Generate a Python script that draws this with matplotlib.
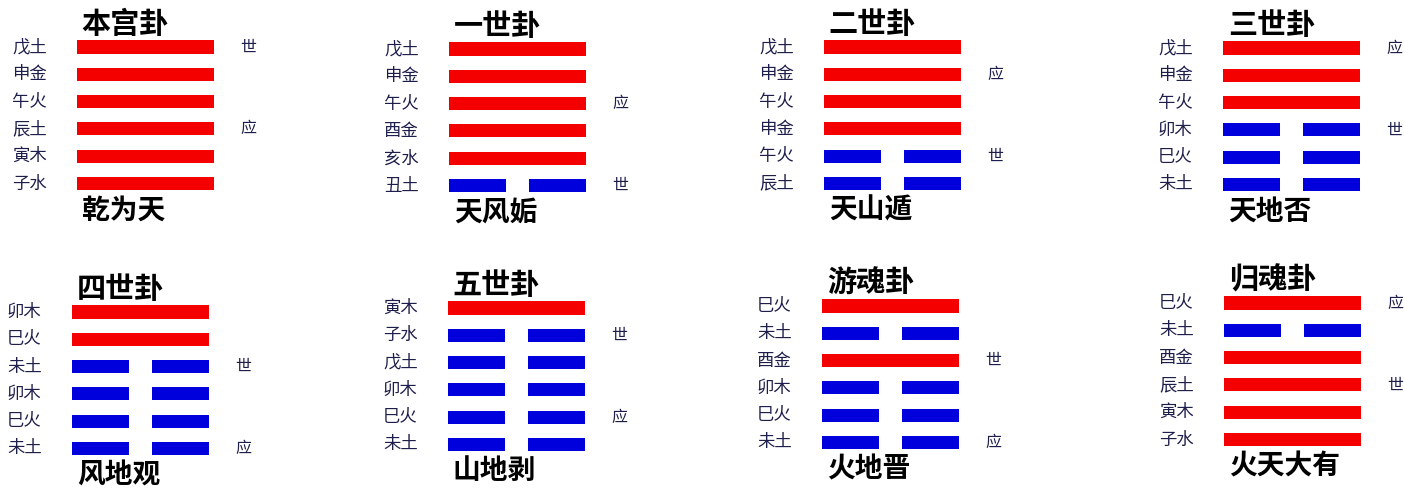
import matplotlib
matplotlib.use("Agg")
import matplotlib.pyplot as plt

plt.rcParams['font.family'] = ['Noto Sans CJK SC', 'DejaVu Sans']

# === Data ===
titles = ['本宫卦', '一世卦', '二世卦', '三世卦', '四世卦', '五世卦', '游魂卦', '归魂卦']
names = ['乾为天', '天风姤', '天山遁', '天地否', '风地观', '山地剥', '火地晋', '火天大有']

# lines listed top to bottom: 1 = yang (solid), 0 = yin (broken)
lines = [
    [1, 1, 1, 1, 1, 1],
    [1, 1, 1, 1, 1, 0],
    [1, 1, 1, 1, 0, 0],
    [1, 1, 1, 0, 0, 0],
    [1, 1, 0, 0, 0, 0],
    [1, 0, 0, 0, 0, 0],
    [1, 0, 1, 0, 0, 0],
    [1, 0, 1, 1, 1, 1],
]
labels = [
    ['戊土', '申金', '午火', '辰土', '寅木', '子水'],
    ['戊土', '申金', '午火', '酉金', '亥水', '丑土'],
    ['戊土', '申金', '午火', '申金', '午火', '辰土'],
    ['戊土', '申金', '午火', '卯木', '巳火', '未土'],
    ['卯木', '巳火', '未土', '卯木', '巳火', '未土'],
    ['寅木', '子水', '戊土', '卯木', '巳火', '未土'],
    ['巳火', '未土', '酉金', '卯木', '巳火', '未土'],
    ['巳火', '未土', '酉金', '辰土', '寅木', '子水'],
]
shi_idx = [0, 5, 4, 3, 2, 1, 2, 3]    # line carrying 世
ying_idx = [3, 2, 1, 0, 5, 4, 5, 0]   # line carrying 应

# === Layout (pixels): bar left edge, first line centre ===
W, H = 1404, 488
anchors = [(77, 47), (449, 49), (824, 47), (1223, 48),
           (72, 312), (448, 308), (822, 306), (1224, 303)]
bar_w = 137
step = 27.3

RED = '#f50000'
BLUE = '#0000dc'
INK = '#1e1e4c'

fig = plt.figure(figsize=(W / 100, H / 100), dpi=100)
fig.patch.set_facecolor('white')

for k in range(8):
    bx, ty = anchors[k]
    top = ty - step / 2
    ax = fig.add_axes([bx / W, 1 - (top + 6 * step) / H, bar_w / W, 6 * step / H])
    ax.set_xlim(0, 1)
    ax.set_ylim(5.5, -0.5)
    ax.axis('off')

    for i, yang in enumerate(lines[k]):
        if yang:
            ax.barh(i, 1.0, left=0, height=0.48, color=RED)
        else:
            ax.barh([i, i], [0.415, 0.415], left=[0, 0.585], height=0.48, color=BLUE)
        ax.text(-0.475, i, labels[k][i], ha='left', va='center',
                fontsize=12.5, color=INK, clip_on=False)

    ax.text(1.25, shi_idx[k], '世', ha='center', va='center',
            fontsize=11.5, color=INK, clip_on=False)
    ax.text(1.25, ying_idx[k], '应', ha='center', va='center',
            fontsize=11.5, color=INK, clip_on=False)

    ax.text(0.035, -0.85, titles[k], ha='left', va='center', fontsize=21,
            fontweight='bold', color='black', clip_on=False)
    ax.text(0.035, 5.98, names[k], ha='left', va='center', fontsize=20,
            fontweight='bold', color='black', clip_on=False)

fig.savefig('out.png', dpi=100, facecolor='white')
